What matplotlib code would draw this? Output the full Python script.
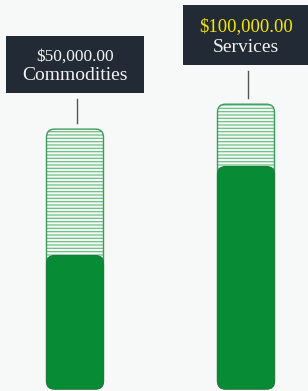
import matplotlib
matplotlib.use("Agg")
import matplotlib.pyplot as plt
from matplotlib.patches import FancyBboxPatch, Rectangle
from matplotlib.transforms import IdentityTransform

# data
categories = ["Commodities", "Services"]
values = [50000, 100000]
capacity = [121000, 135000]
value_labels = ["$50,000.00", "$100,000.00"]
value_colors = ["#f2f2f2", "#f5e800"]
value_sizes = [12.5, 13.5]
floor = -25000

bg = "#f7f9f9"
plt.rcParams["hatch.linewidth"] = 0.9

fig = plt.figure(figsize=(3.08, 3.91), dpi=100, facecolor=bg)
ax = fig.add_axes([0, 0, 1, 1])
ax.set_facecolor(bg)
ax.set_xlim(-0.4386, 1.3626)
ax.set_ylim(-26124, 193539)
ax.axis("off")

xupp = (1.3626 + 0.4386) / 308
yupp = (193539 + 26124) / 391
aspect = yupp / xupp
width = 57 * xupp
r = 8 * xupp

for i, cat in enumerate(categories):
    x0 = i - width / 2
    # hatched "capacity" part
    hatch_bar = FancyBboxPatch((x0, floor), width, capacity[i] - floor,
                               boxstyle=f"round,pad=0,rounding_size={r}",
                               mutation_aspect=aspect, facecolor="none",
                               edgecolor="#6cc283", linewidth=0, hatch="-----")
    ax.add_patch(hatch_bar)
    outline = FancyBboxPatch((x0, floor), width, capacity[i] - floor,
                             boxstyle=f"round,pad=0,rounding_size={r}",
                             mutation_aspect=aspect, facecolor="none",
                             edgecolor="#3d9a5c", linewidth=1.0)
    ax.add_patch(outline)
    fill = FancyBboxPatch((x0, floor), width, values[i] - floor,
                          boxstyle=f"round,pad=0,rounding_size={r}",
                          mutation_aspect=aspect, facecolor="#078b34",
                          edgecolor="#1f7a3e", linewidth=0.8)
    ax.add_patch(fill)

    # label texts, offsets in pixels above the bar top
    vbase = 68 if i == 0 else 73
    lbase = 49 if i == 0 else 52
    t1 = ax.annotate(value_labels[i], (i, capacity[i]), xytext=(0, vbase),
                     textcoords="offset pixels", ha="center", va="baseline",
                     family="Liberation Serif", fontsize=value_sizes[i],
                     color=value_colors[i], zorder=6)
    t2 = ax.annotate(cat, (i, capacity[i]), xytext=(0, lbase),
                     textcoords="offset pixels", ha="center", va="baseline",
                     family="Liberation Serif", fontsize=14,
                     color="#f2f2f2", zorder=6)

    fig.canvas.draw()
    e1 = t1.get_window_extent()
    e2 = t2.get_window_extent()
    xc, ytop = ax.transData.transform((i, capacity[i]))
    left = min(e1.x0, e2.x0) - 16
    right = max(e1.x1, e2.x1) + 16
    top = ytop + vbase + value_sizes[i] * 100 / 72 * 0.68 + 13
    bottom = ytop + lbase - 13
    ax.add_patch(Rectangle((left, bottom), right - left, top - bottom,
                           transform=IdentityTransform(), facecolor="#222a35",
                           edgecolor="none", zorder=5, clip_on=False))
    # connector
    xc += 2
    ax.add_line(plt.Line2D([xc, xc], [bottom - 6, ytop + 6],
                           transform=IdentityTransform(), color="#555555",
                           lw=1.0, clip_on=False))

fig.savefig("out.png", dpi=100, facecolor=bg)
